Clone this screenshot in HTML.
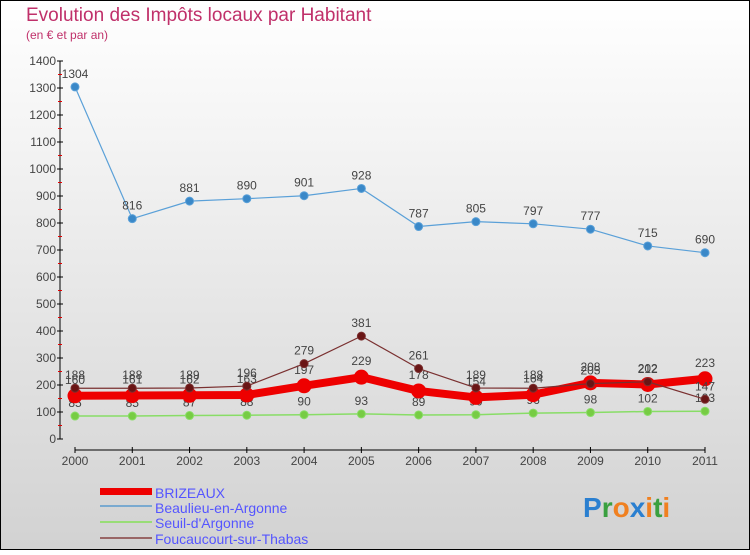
<!DOCTYPE html>
<html><head><meta charset="utf-8"><style>
body{margin:0;width:750px;height:550px;overflow:hidden;font-family:"Liberation Sans",sans-serif}
</style></head><body>
<svg id="c" width="750" height="550" xmlns="http://www.w3.org/2000/svg">
<defs><linearGradient id="bg" x1="0" y1="0" x2="0" y2="1"><stop offset="0" stop-color="#ffffff"/><stop offset="1" stop-color="#d2d2d2"/></linearGradient></defs>
<rect x="0.5" y="0.5" width="749" height="549" fill="url(#bg)" stroke="#000"/>
<text x="26" y="21" font-size="19" fill="#c0306a">Evolution des Impôts locaux par Habitant</text>
<text x="26" y="39" font-size="12" fill="#c0306a">(en € et par an)</text>
<g id="axes"></g><g id="series"></g>
<g font-size="14" fill="#5555ff">
<rect x="100" y="488" width="52" height="7" fill="#ee0000"/>
<text x="155" y="498">BRIZEAUX</text>
<rect x="100" y="505" width="52" height="2" fill="#7aaad0"/>
<text x="155" y="513">Beaulieu-en-Argonne</text>
<rect x="100" y="521" width="52" height="2" fill="#99dd77"/>
<text x="155" y="528">Seuil-d'Argonne</text>
<rect x="100" y="537" width="52" height="2" fill="#996666"/>
<text x="155" y="544">Foucaucourt-sur-Thabas</text>
</g>
<g font-size="28" font-weight="bold">
<text x="583" y="517"><tspan fill="#2a7fd0">P</tspan><tspan fill="#3aa040">r</tspan><tspan fill="#f08020">o</tspan><tspan fill="#2a7fd0">x</tspan><tspan fill="#f08020">i</tspan><tspan fill="#3aa040">t</tspan><tspan fill="#f08020">i</tspan></text>
</g>
</svg>
<script>
const years=[2000,2001,2002,2003,2004,2005,2006,2007,2008,2009,2010,2011];
const brizeaux=[160,161,162,163,197,229,178,154,164,208,202,223];
const beaulieu=[1304,816,881,890,901,928,787,805,797,777,715,690];
const seuil=[85,85,87,88,90,93,89,90,96,98,102,103];
const foucaucourt=[188,188,189,196,279,381,261,189,188,205,212,147];
const yTicks=[0,100,200,300,400,500,600,700,800,900,1000,1100,1200,1300,1400];
const NS="http://www.w3.org/2000/svg";
const X=i=>75+i*(630/(years.length-1));
const Y=v=>439-v*(378/1400);
function mk(t,a,p){const e=document.createElementNS(NS,t);for(const k in a)e.setAttribute(k,a[k]);p.appendChild(e);return e;}
const ax=document.getElementById('axes');
mk('line',{x1:60,y1:Y(0),x2:60,y2:Y(1400),stroke:'#000'},ax);
yTicks.forEach((v,i)=>{
 const t=mk('line',{x1:57,y1:Y(v),x2:63,y2:Y(v),stroke:'#000'},ax);
 
 
 const l=mk('text',{x:56,y:Y(v)+4,'text-anchor':'end','font-size':12,fill:'#444'},ax);
 l.textContent=v;
 
 
 if(i<yTicks.length-1){mk('line',{x1:58,y1:Y(v+50),x2:62,y2:Y(v+50),stroke:'#e00000'},ax);}
});
mk('line',{x1:X(0),y1:450,x2:X(years.length-1),y2:450,stroke:'#000'},ax);
years.forEach((yv,i)=>{
 mk('line',{x1:X(i),y1:447,x2:X(i),y2:453,stroke:'#000'},ax);
 const l=mk('text',{x:X(i),y:465,'text-anchor':'middle','font-size':12,fill:'#444'},ax);
 l.textContent=yv;
 
 
});
const sg=document.getElementById('series');
function draw(name,vals,color,w,r,pcol,labOff){
 const g=mk('g',{},sg);
 
 
 const ln=mk('polyline',{points:vals.map((v,i)=>X(i)+','+Y(v)).join(' '),fill:'none',stroke:color,'stroke-width':w,'stroke-linejoin':'round'},g);
 
 
 vals.forEach((v,i)=>{
  const c=mk('circle',{cx:X(i),cy:Y(v),r:r,fill:pcol,stroke:color,'stroke-width':1},g);
  
  
  const t=mk('text',{x:X(i),y:Y(v)-labOff,'text-anchor':'middle','font-size':12,fill:'#444'},g);
  t.textContent=v;
  
  
 });
}
draw('seuil',seuil,'#88dd66',1.5,4,'#77cc44',9);
draw('beaulieu',beaulieu,'#5aa0d8',1.2,4,'#3a88c8',9);
draw('brizeaux',brizeaux,'#ee0000',8,7,'#ee0000',12);
draw('foucaucourt',foucaucourt,'#7a3030',1.2,4,'#6a1515',9);
</script>
</body></html>
